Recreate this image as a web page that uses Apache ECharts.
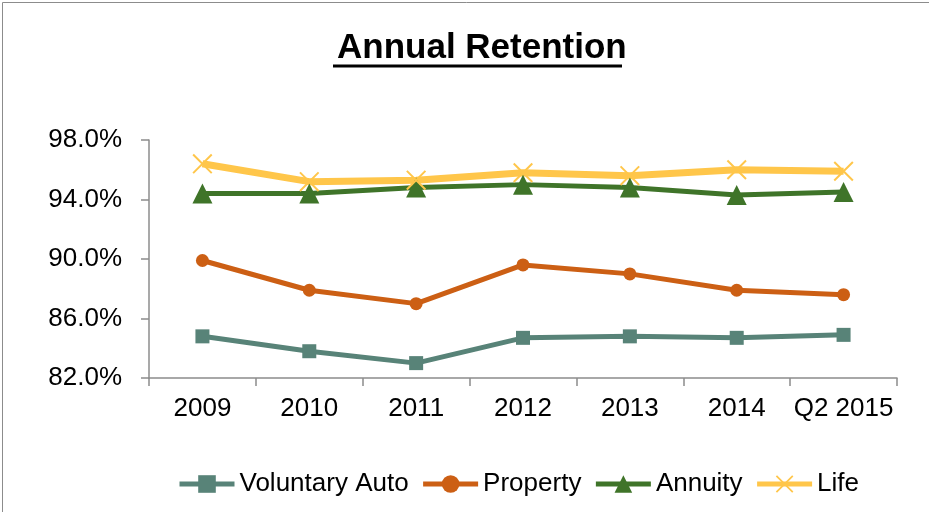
<!DOCTYPE html>
<html>
<head>
<meta charset="utf-8">
<script src="https://cdn.jsdelivr.net/npm/echarts@6/dist/echarts.min.js"></script>
<style>
html,body{margin:0;padding:0;background:#fff;}
#chart{width:929px;height:512px;}
</style>
</head>
<body>
<div id="chart"></div>
<script>
var categories = ['2009', '2010', '2011', '2012', '2013', '2014', 'Q2 2015'];
var voluntaryAuto = [84.8, 83.8, 83.0, 84.7, 84.8, 84.7, 84.9];
var property = [89.9, 87.9, 87.0, 89.6, 89.0, 87.9, 87.6];
var annuity = [94.4, 94.4, 94.8, 95.0, 94.8, 94.3, 94.5];
var life = [96.4, 95.2, 95.3, 95.8, 95.6, 96.0, 95.9];
var yTicks = [82, 86, 90, 94, 98];

var FONT = 'Liberation Sans, Arial, sans-serif';
var xPath = 'path://M0,0.7 L0.7,0 L10,9.3 L9.3,10 Z M9.3,0 L10,0.7 L0.7,10 L0,9.3 Z';

var chart = echarts.init(document.getElementById('chart'), null, {renderer: 'canvas'});
chart.setOption({
  animation: false,
  backgroundColor: '#fff',
  title: {
    text: 'Annual Retention',
    left: 332,
    top: 26,
    textStyle: {fontFamily: FONT, fontSize: 35, fontWeight: 'bold', color: '#000'}
  },
  graphic: [
    {type: 'rect', shape: {x: 2.5, y: 2.5, width: 960, height: 560}, style: {fill: 'none', stroke: '#8c8c8c', lineWidth: 1}, silent: true},
    {type: 'line', shape: {x1: 333, y1: 66, x2: 622, y2: 66}, style: {stroke: '#000', lineWidth: 3}, silent: true}
  ],
  grid: {left: 149, right: 32, top: 140, bottom: 134, containLabel: false},
  legend: {
    bottom: 10,
    left: 172,
    itemWidth: 55,
    itemHeight: 22,
    itemGap: 12,
    textStyle: {fontFamily: FONT, fontSize: 26, color: '#000'},
    lineStyle: {width: 5},
    data: ['Voluntary Auto', 'Property', 'Annuity', 'Life']
  },
  xAxis: {
    type: 'category',
    data: categories,
    boundaryGap: true,
    axisLine: {lineStyle: {color: '#8c8c8c', width: 1.5}},
    axisTick: {show: true, length: 8, interval: 0, alignWithLabel: false, lineStyle: {color: '#8c8c8c', width: 1.5}},
    axisLabel: {fontFamily: FONT, fontSize: 26, color: '#000', margin: 18, interval: 0}
  },
  yAxis: {
    type: 'value',
    min: yTicks[0],
    max: yTicks[yTicks.length - 1],
    interval: yTicks[1] - yTicks[0],
    axisLine: {show: true, lineStyle: {color: '#8c8c8c', width: 1.5}},
    axisTick: {show: true, length: 8, lineStyle: {color: '#8c8c8c', width: 1.5}},
    splitLine: {show: false},
    axisLabel: {fontFamily: FONT, fontSize: 26, color: '#000', margin: 27,
      formatter: function (v) { return v.toFixed(1) + '%'; }}
  },
  series: [
    {
      name: 'Voluntary Auto', type: 'line', data: voluntaryAuto,
      symbol: 'rect', symbolSize: 14,
      lineStyle: {color: '#588378', width: 5},
      itemStyle: {color: '#588378'}
    },
    {
      name: 'Property', type: 'line', data: property,
      symbol: 'circle', symbolSize: 13,
      lineStyle: {color: '#CC5F14', width: 5},
      itemStyle: {color: '#CC5F14'}
    },
    {
      name: 'Annuity', type: 'line', data: annuity,
      symbol: 'triangle', symbolSize: 20,
      lineStyle: {color: '#3F7429', width: 5},
      itemStyle: {color: '#3F7429'}
    },
    {
      name: 'Life', type: 'line', data: life,
      symbol: xPath, symbolSize: 20,
      lineStyle: {color: '#FFC64A', width: 7},
      itemStyle: {color: '#FFC64A'}
    }
  ]
});
</script>
</body>
</html>
